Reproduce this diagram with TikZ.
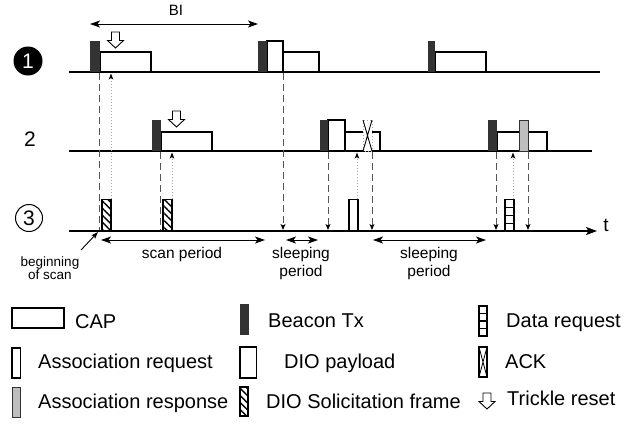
\documentclass[tikz,border=0pt]{standalone}
\usepackage{fontspec}
\setmainfont{Liberation Sans}
\usetikzlibrary{arrows.meta,patterns.meta}
\definecolor{beacondark}{HTML}{333333}
\definecolor{dashgray}{HTML}{555555}
\definecolor{dotgray}{HTML}{A8A8A8}
\definecolor{respgray}{HTML}{BEBEBE}
\tikzset{
  baseline line/.style={line width=1.2pt, draw=black},
  capbox/.style={draw=black, line width=1.1pt, fill=white},
  beaconbox/.style={fill=beacondark, draw=none},
  payloadbox/.style={draw=black, line width=1.1pt, fill=white},
  solicbox/.style={draw=black, line width=1.1pt, pattern={Lines[angle=-45,distance=5pt,line width=1.4pt]}},
  respbox/.style={draw=black!80, line width=1pt, fill=respgray},
  plainbox/.style={draw=black, line width=1.1pt, fill=white},
  dashline/.style={draw=dashgray, line width=1pt, dash pattern=on 7pt off 4pt},
  dotline/.style={draw=dotgray, line width=1pt, dash pattern=on 1pt off 2pt},
  downhead/.style={-{Stealth[length=6pt,width=5pt,inset=1.5pt,color=black]}},
  uphead/.style={-{Stealth[length=6pt,width=4.5pt,inset=1.5pt,color=black]}},
  twohead/.style={{Stealth[length=10pt,width=7pt,inset=2.5pt]}-{Stealth[length=10pt,width=7pt,inset=2.5pt]}, line width=1pt},
  lbl/.style={font=\fontsize{15.5}{18}\selectfont, inner sep=0pt, anchor=base},
  small lbl/.style={font=\fontsize{13.5}{16}\selectfont, inner sep=0pt, anchor=base},
  leg/.style={font=\fontsize{20}{24}\selectfont, inner sep=0pt, anchor=base west},
  trickle/.pic={\draw[line width=0.9pt, fill=white] (-4,0) -- (4,0) -- (4,8.5) -- (8,8.5) -- (0,16) -- (-8,8.5) -- (-4,8.5) -- cycle;},
}
\begin{document}
\begin{tikzpicture}[x=1pt,y=-1pt]
\useasboundingbox (0,0) rectangle (642,424);
\fill[white] (0,0) rectangle (642,424);

% row labels
\node[circle, fill=black, minimum size=29pt, inner sep=0pt, text=white, font=\fontsize{21}{24}\selectfont] (r1) at (28,61) {1};
\node[font=\fontsize{21}{24}\selectfont, inner sep=0pt] (r2) at (30,139) {2};
\node[circle, draw=black, line width=1pt, minimum size=27pt, inner sep=0pt, font=\fontsize{21}{24}\selectfont] (r3) at (29,218) {3};

% baselines
\coordinate (l1a) at (69,72); \coordinate (l1b) at (600,72);
\coordinate (l2a) at (69,151); \coordinate (l2b) at (592,151);
\coordinate (l3a) at (69,231); \coordinate (l3b) at (597,231);
\draw[baseline line] (l1a) -- (l1b);
\draw[baseline line] (l2a) -- (l2b);
\draw[baseline line, -{Stealth[length=11pt,width=8pt,inset=2.5pt]}] (l3a) -- (l3b);
\node[font=\fontsize{19}{22}\selectfont, inner sep=0pt, anchor=base] (tlab) at (606,231) {t};

% BI
\coordinate (bia) at (90,24); \coordinate (bib) at (258,24);
\draw[twohead] (bia) -- (bib);
\node[font=\fontsize{15}{18}\selectfont, inner sep=0pt, anchor=base] (bilab) at (176,15) {BI};

% ---- row 1 ----
\draw[capbox] (100,52) rectangle (151,72);
\fill[beaconbox] (90,41) rectangle (100,72);
\pic at (115.5,32) {trickle};

\draw[capbox] (267,52) rectangle (319,72);
\draw[payloadbox] (267,41) rectangle (283,72);
\fill[beaconbox] (258,41) rectangle (267,72);

\draw[capbox] (435,52) rectangle (486,72);
\fill[beaconbox] (428,41) rectangle (435,72);

% ---- row 2 ----
\draw[capbox] (161,132) rectangle (212,151);
\fill[beaconbox] (152,120) rectangle (161,151);
\pic at (176.5,111) {trickle};

\draw[capbox] (328,132) rectangle (380,151);
\draw[payloadbox] (328,120) rectangle (345,151);
\fill[beaconbox] (320,120) rectangle (328,151);
\fill[white] (363,120) rectangle (372,151);
\draw[dotline, line width=0.8pt] (363,120) rectangle (372,151);
\draw[line width=0.9pt] (363,120) -- (372,151) (372,120) -- (363,151);

\draw[capbox] (497,132) rectangle (547,151);
\draw[respbox] (519,120) rectangle (528,151);
\fill[beaconbox] (488,120) rectangle (497,151);

% ---- row 3 ----
\draw[solicbox] (102,199.5) rectangle (111,231);
\draw[solicbox] (163,199.5) rectangle (172,231);
\draw[plainbox] (349,199.5) rectangle (358,231);
\draw[plainbox] (505,199.5) rectangle (514,231);
\draw[line width=1.1pt] (505,207.4) -- (514,207.4) (505,215.25) -- (514,215.25) (505,223.1) -- (514,223.1);

% ---- vertical connectors ----
\coordinate (c1a) at (99,73);  \coordinate (c1b) at (99,230);
\coordinate (c2a) at (111,199); \coordinate (c2b) at (111,73.5);
\coordinate (c3a) at (160,152); \coordinate (c3b) at (160,230);
\coordinate (c4a) at (172,199); \coordinate (c4b) at (172,152.5);
\coordinate (c5a) at (283,73);  \coordinate (c5b) at (283,230);
\coordinate (c6a) at (328,152); \coordinate (c6b) at (328,230);
\coordinate (c7a) at (357,199); \coordinate (c7b) at (357,152.5);
\coordinate (c8a) at (372,152); \coordinate (c8b) at (372,230);
\coordinate (c9a) at (496,152); \coordinate (c9b) at (496,230);
\coordinate (c10a) at (513,199); \coordinate (c10b) at (513,152.5);
\coordinate (c11a) at (528,152); \coordinate (c11b) at (528,230);
\draw[dashline] (c1a) -- (c1b);
\draw[dotline, uphead] (c2a) -- (c2b);
\draw[dashline] (c3a) -- (c3b);
\draw[dotline, uphead] (c4a) -- (c4b);
\draw[dashline, downhead] (c5a) -- (c5b);
\draw[dashline, downhead] (c6a) -- (c6b);
\draw[dotline, uphead] (c7a) -- (c7b);
\draw[dashline, downhead] (c8a) -- (c8b);
\draw[dashline, downhead] (c9a) -- (c9b);
\draw[dotline, uphead] (c10a) -- (c10b);
\draw[dashline, downhead] (c11a) -- (c11b);

% ---- periods ----
\coordinate (spa) at (101,240); \coordinate (spb) at (265,240);
\draw[twohead] (spa) -- (spb);
\node[lbl] (splab) at (182,258) {scan period};
\coordinate (s1a) at (286,240); \coordinate (s1b) at (318,240);
\draw[twohead] (s1a) -- (s1b);
\node[lbl] (s1lab1) at (301,258) {sleeping};
\node[lbl] (s1lab2) at (301,276) {period};
\coordinate (s2a) at (373,240); \coordinate (s2b) at (486,240);
\draw[twohead] (s2a) -- (s2b);
\node[lbl] (s2lab1) at (429,258) {sleeping};
\node[lbl] (s2lab2) at (429,276) {period};

\node[small lbl] (bos1) at (50,266) {beginning};
\node[small lbl] (bos2) at (50,279) {of scan};
\coordinate (bosa) at (81,250); \coordinate (bosb) at (98,232);
\draw[line width=0.9pt, -{Stealth[length=7pt,width=5pt,inset=1.5pt]}] (bosa) -- (bosb);

% ---- legend ----
\draw[capbox] (12,308) rectangle (64,328);
\node[leg] (lcap) at (75,328) {CAP};
\fill[beaconbox] (240,304) rectangle (248.5,335);
\node[leg] (lbeacon) at (268,327) {Beacon Tx};
\draw[plainbox] (479,306) rectangle (487,336);
\draw[line width=1.1pt] (479,313.5) -- (487,313.5) (479,321) -- (487,321) (479,328.5) -- (487,328.5);
\node[leg] (ldata) at (506,327) {Data request};

\draw[plainbox] (12,348) rectangle (20.5,378);
\node[leg] (lareq) at (38,368) {Association request};
\draw[plainbox] (240,347) rectangle (256.5,378);
\node[leg] (ldio) at (284,368) {DIO payload};
\draw[plainbox] (479,347) rectangle (487,377);
\draw[line width=0.8pt] (479,347) -- (487,377) (487,347) -- (479,377);
\node[leg] (lack) at (505,368) {ACK};

\draw[respbox] (12,387) rectangle (20.5,417);
\node[leg] (laresp) at (38,408) {Association response};
\draw[solicbox] (240,387) rectangle (248,416);
\node[leg] (lsol) at (266,408) {DIO Solicitation frame};
\pic at (487,393) {trickle};
\node[leg] (ltrick) at (507,405) {Trickle reset};
\end{tikzpicture}
\end{document}
